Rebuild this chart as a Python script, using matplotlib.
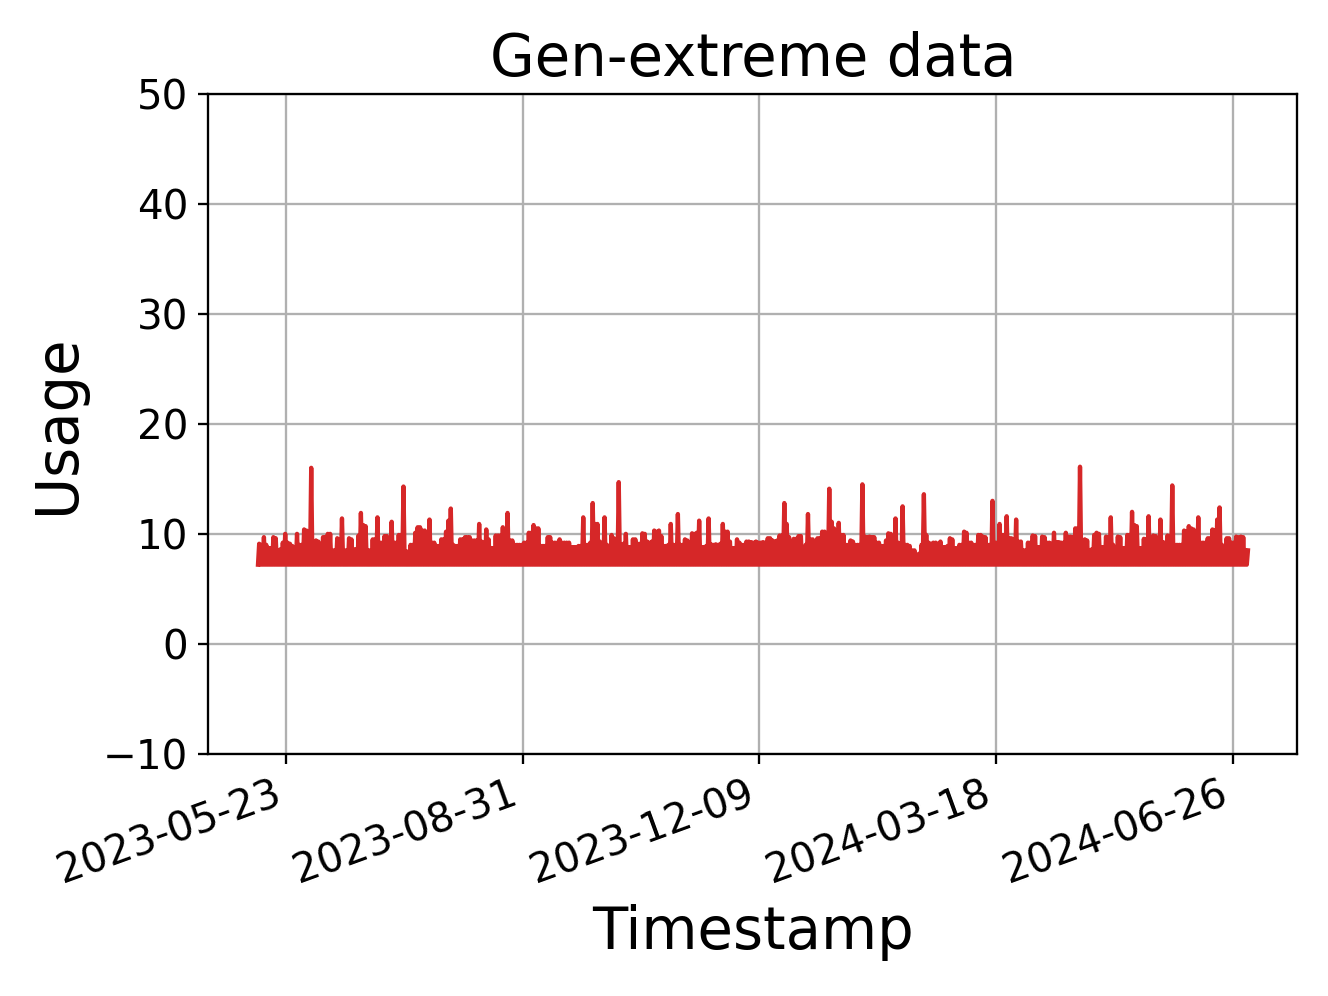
import numpy as np
import matplotlib
matplotlib.use('Agg')
import matplotlib.pyplot as plt
import matplotlib.dates as mdates

# first day of the series and the floor of the usage band
start_date = '2023-05-11'
base_usage = 7.2

# daily peak usage (one value per day)
daily_peak = [
    9.1, 9.0, 9.7, 9.0, 8.7, 8.7, 9.7, 9.6, 8.5, 8.6,
    9.2, 10.0, 9.2, 9.1, 8.9, 8.8, 10.0, 9.0, 9.0, 10.4,
    10.3, 9.5, 16.0, 8.4, 9.4, 9.3, 8.4, 9.7, 9.7, 10.0,
    10.0, 8.5, 8.5, 9.6, 9.5, 11.4, 8.5, 8.5, 9.6, 9.5,
    8.6, 8.6, 9.85, 11.9, 10.8, 10.7, 8.5, 8.5, 9.5, 9.5,
    11.5, 9.2, 9.2, 9.8, 9.8, 9.2, 11.1, 9.2, 9.2, 9.9,
    9.9, 14.3, 8.4, 8.4, 9.0, 9.0, 10.1, 10.6, 10.6, 10.3,
    10.3, 9.3, 11.3, 9.2, 9.2, 8.9, 8.9, 9.5, 9.5, 10.2,
    11.2, 12.3, 9.0, 8.9, 8.9, 9.5, 9.5, 9.7, 9.7, 9.7,
    9.4, 9.4, 9.4, 10.9, 9.3, 9.2, 10.4, 9.5, 8.7, 8.7,
    9.85, 9.85, 9.85, 10.6, 9.5, 11.9, 9.4, 9.4, 9.0, 9.0,
    9.0, 9.0, 9.2, 9.2, 10.1, 10.1, 10.8, 10.5, 10.5, 8.9,
    8.9, 8.9, 9.7, 9.7, 9.2, 9.2, 9.2, 9.5, 9.2, 9.2,
    9.2, 9.2, 8.8, 8.8, 8.8, 8.9, 8.9, 11.5,
    9.0, 9.0, 9.2, 12.8, 10.9, 10.9, 9.3, 9.0, 11.5, 9.0,
    8.9, 9.9, 9.6, 9.0, 14.7, 9.0, 9.1, 10.0, 8.8, 8.8,
    9.5, 9.5, 9.1, 9.1, 10.05, 10.0, 9.3, 9.2, 9.3, 10.3,
    10.2, 10.3, 9.8, 8.9, 8.9, 9.0, 10.9, 9.0, 9.0, 11.8,
    9.0, 9.0, 9.5, 9.4, 8.9, 10.05, 10.0, 10.1, 11.2, 8.8,
    8.8, 8.9, 11.4, 9.05, 9.0, 9.05, 9.0, 9.1, 10.9, 10.2,
    10.2, 9.3, 8.7, 8.7, 9.5, 9.2, 9.0, 9.0, 9.3, 9.3,
    9.25, 9.2, 9.3, 9.2, 9.2, 9.25, 9.2, 9.6, 9.6, 9.4,
    9.3, 9.4, 9.85, 9.85, 12.8, 10.9, 9.7, 8.9, 9.55, 9.55,
    9.8, 9.8, 8.5, 9.0, 11.8, 9.5, 9.5, 9.0, 9.6, 9.6,
    10.2, 10.2, 9.4, 14.1, 11.1, 10.5, 8.9, 11.0, 9.9, 9.9,
    9.0, 9.0, 9.4, 9.3, 9.0, 9.0, 9.0, 14.5, 9.75, 9.7,
    9.75, 9.7, 9.7, 9.2, 9.2, 8.9, 8.9, 9.4, 10.05, 10.0,
    9.2, 11.4, 9.2, 9.1, 12.5, 9.0, 9.0, 8.9, 8.5, 8.5,
    8.1, 8.2, 9.0, 13.6, 9.9, 9.2, 9.1, 9.2, 9.2, 9.1,
    9.3, 8.8, 8.8, 8.9, 9.6, 9.5, 8.7, 8.7, 9.0, 9.0,
    10.2, 10.1, 9.2, 9.2, 9.0, 9.0, 9.9, 9.9, 9.75, 9.7,
    9.0, 9.0, 13.0, 9.2, 9.2, 10.9, 9.9, 9.9, 11.6, 9.6,
    9.6, 9.5, 11.3, 9.3, 9.3, 8.5, 8.5, 9.2, 9.2, 9.85,
    9.8, 8.8, 8.8, 9.75, 9.7, 9.2, 9.2, 9.1, 10.1, 9.25,
    9.25, 9.2, 9.2, 10.1, 9.75, 9.75, 9.7, 10.5, 10.5,
    16.1, 8.6, 9.5, 9.4, 8.5, 8.6, 9.9, 10.1, 10.0, 8.8,
    8.8, 9.75, 9.7, 11.5, 9.0, 8.7, 9.75, 9.7, 8.7, 8.7,
    9.9, 9.9, 12.0, 10.8, 10.7, 8.7, 8.7, 9.55, 9.5, 11.6,
    9.4, 9.85, 9.8, 9.2, 11.3, 9.25, 9.2, 9.85, 9.8, 14.4,
    9.0, 9.0, 9.0, 9.0, 10.3, 10.2, 10.7, 10.5, 10.4, 9.9,
    11.5, 9.2, 9.2, 9.2, 9.6, 9.6, 10.4, 10.3, 11.3, 12.4,
    9.0, 8.5, 9.6, 9.6, 9.2, 9.2, 9.75, 9.7, 9.75, 9.7,
    8.5, 8.5,
]

tick_dates = ['2023-05-23', '2023-08-31', '2023-12-09', '2024-03-18', '2024-06-26']

n_days = len(daily_peak)
day_start = np.datetime64(start_date, 'h') + np.arange(n_days) * 24

# each day: floor at the start, peak at midday
times = np.empty(2 * n_days, dtype='datetime64[h]')
times[0::2] = day_start
times[1::2] = day_start + 12
usage = np.empty(2 * n_days)
usage[0::2] = base_usage
usage[1::2] = daily_peak

fig, ax = plt.subplots(figsize=(6.4, 4.8), dpi=207.5)
fig.subplots_adjust(left=0.157, right=0.977, bottom=0.243, top=0.906)

ax.plot(times, usage, color='tab:red', linewidth=1.5)

ax.set_ylim(-10, 50)
ax.set_xticks([np.datetime64(d) for d in tick_dates])
ax.xaxis.set_major_formatter(mdates.DateFormatter('%Y-%m-%d'))
ax.tick_params(labelsize=14)
plt.setp(ax.get_xticklabels(), rotation=20, ha='right')

ax.set_title('Gen-extreme data', fontsize=20)
ax.set_xlabel('Timestamp', fontsize=20)
ax.set_ylabel('Usage', fontsize=20, labelpad=6)
ax.grid(True)

fig.savefig('out.png', dpi=207.5)
